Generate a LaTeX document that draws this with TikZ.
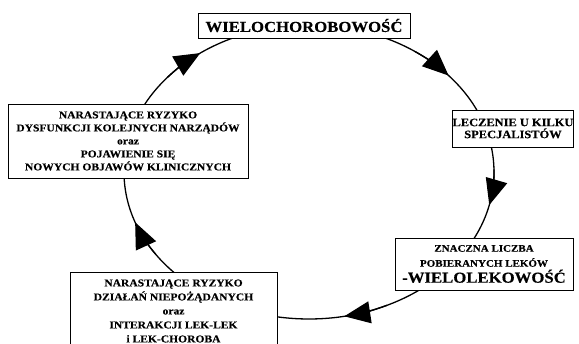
\documentclass[tikz,border=0pt]{standalone}
\usepackage{fontspec}
\setmainfont{Liberation Serif}
\newfontfamily\bxfont{Liberation Serif}[FakeStretch=1.1,FakeBold=0.3]
\usetikzlibrary{arrows.meta}
\tikzset{
  box/.style={draw, line width=0.8pt, fill=white, inner sep=0pt, align=center,
    font=\bxfont\bfseries\fontsize{10.5}{13}\selectfont},
  txt/.style={inner sep=0pt, align=center, font=\bxfont\bfseries\fontsize{10.5}{14}\selectfont},
  cyc/.style={line width=1.3pt},
  tipar/.style={line width=1.3pt, -{Triangle[length=26pt,width=22pt]}}
}
\newcommand\bigtxt{\fontsize{15.2}{16}\selectfont}
\begin{document}
\begin{tikzpicture}[x=1pt,y=1pt]
\useasboundingbox (0,0) rectangle (579,-344);
\clip (0,0) rectangle (579,-344);
\fill[white] (0,0) rectangle (579,-344);
% cycle ellipse
\draw[cyc] (309,-172) ellipse [x radius=185pt, y radius=147pt];
% arrow heads along the ellipse
\foreach \s/\e in {55/41, 1/-13, -65/-79, 214/200, 140/126}{
  \draw[tipar] (309,-172) ++(\s:185pt and 147pt)
     arc[start angle=\s, end angle=\e, x radius=185pt, y radius=147pt];
}
% boxes
\node[box, minimum width=212, minimum height=25, font=\bxfont\bfseries\bigtxt]
  (top) at (304,-25.5) {WIELOCHOROBOWOŚĆ};
\node[box, minimum width=120, minimum height=37, font=\bxfont\bfseries\fontsize{11.3}{12}\selectfont]
  (spec) at (513,-128.5) {LECZENIE U KILKU\\ SPECJALISTÓW};
\node[box, minimum width=178, minimum height=52, font=\bxfont\bfseries\fontsize{10}{15}\selectfont]
  (leki) at (484,-264) {ZNACZNA LICZBA\\POBIERANYCH LEKÓW\\[1pt]{\bigtxt -WIELOLEKOWOŚĆ}};
\node[box, minimum width=207, minimum height=90, anchor=north]
  (bot) at (173.5,-272) {};
\node[txt] (bottxt) at (173.5,-311)
  {NARASTAJĄCE RYZYKO\\DZIAŁAŃ NIEPOŻĄDANYCH\\oraz\\INTERAKCJI LEK-LEK\\i LEK-CHOROBA};
\node[box, minimum width=240, minimum height=74]
  (left) at (128,-141) {NARASTAJĄCE RYZYKO\\DYSFUNKCJI KOLEJNYCH NARZĄDÓW\\oraz\\POJAWIENIE SIĘ\\NOWYCH OBJAWÓW KLINICZNYCH};
\end{tikzpicture}
\end{document}
